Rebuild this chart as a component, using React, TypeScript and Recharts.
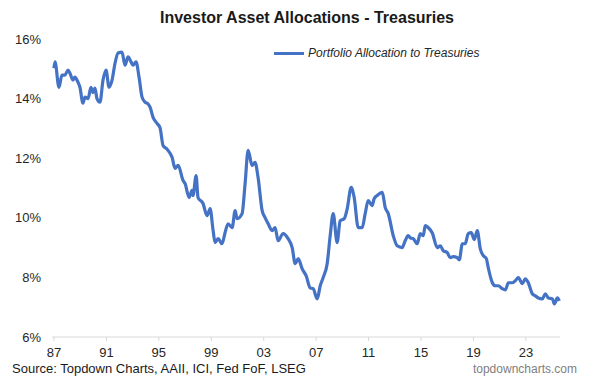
import React from 'react';
import { LineChart, Line, XAxis, YAxis } from 'recharts';

const FONT = '"Liberation Sans", Arial, sans-serif';

// decimal years
const dates = [
  1987.0, 1987.08, 1987.38, 1987.61, 1987.84, 1988.07, 1988.22, 1988.45, 1988.6, 1988.83,
  1988.98, 1989.21, 1989.37, 1989.6, 1989.82, 1989.98, 1990.13, 1990.28, 1990.51, 1990.74,
  1990.97, 1991.2, 1991.43, 1991.66, 1991.89, 1992.19, 1992.42, 1992.65, 1992.88, 1993.03,
  1993.26, 1993.49, 1993.72, 1993.95, 1994.18, 1994.33, 1994.56, 1994.86, 1995.09, 1995.32,
  1995.63, 1996.01, 1996.24, 1996.47, 1996.85, 1997.0, 1997.31, 1997.53, 1997.61, 1997.84,
  1997.99, 1998.37, 1998.68, 1998.91, 1999.14, 1999.29, 1999.52, 1999.82, 2000.05, 2000.28,
  2000.59, 2000.82, 2000.97, 2001.35, 2001.58, 2001.81, 2002.11, 2002.34, 2002.57, 2002.88,
  2003.11, 2003.34, 2003.64, 2003.87, 2004.1, 2004.48, 2004.86, 2005.17, 2005.4, 2005.63,
  2005.93, 2006.24, 2006.54, 2006.77, 2007.08, 2007.31, 2007.53, 2007.84, 2008.07, 2008.3,
  2008.6, 2008.83, 2009.14, 2009.37, 2009.67, 2009.9, 2010.21, 2010.51, 2010.74, 2010.97,
  2011.27, 2011.43, 2011.66, 2012.04, 2012.27, 2012.5, 2012.88, 2013.18, 2013.56, 2013.79,
  2014.02, 2014.18, 2014.4, 2014.71, 2014.94, 2015.17, 2015.32, 2015.55, 2015.85, 2016.24,
  2016.47, 2016.69, 2017.0, 2017.23, 2017.46, 2017.76, 2017.92, 2018.15, 2018.37, 2018.6,
  2018.83, 2019.06, 2019.29, 2019.52, 2019.75, 2019.98, 2020.13, 2020.44, 2020.66, 2020.89,
  2021.2, 2021.43, 2021.66, 2021.96, 2022.19, 2022.42, 2022.73, 2022.95, 2023.18, 2023.49,
  2023.72, 2023.95, 2024.25, 2024.48, 2024.71, 2025.02, 2025.17, 2025.4, 2025.55,
];

// portfolio allocation to treasuries, %
const allocation = [
  15.02, 15.23, 14.38, 14.79, 14.79, 14.96, 14.85, 14.62, 14.72, 14.55,
  14.38, 13.85, 14.05, 14.0, 14.38, 14.2, 14.35, 14.0, 13.88, 14.62,
  14.96, 14.38, 14.62, 15.19, 15.53, 15.56, 15.12, 15.4, 15.23, 15.12,
  15.23, 14.72, 14.05, 13.88, 13.82, 13.71, 13.37, 13.17, 13.02, 12.43,
  12.3, 12.03, 11.66, 11.76, 11.25, 11.15, 10.68, 10.92, 10.75, 11.42,
  10.68, 10.48, 10.07, 10.31, 9.57, 9.17, 9.3, 9.13, 9.5, 9.8,
  9.67, 10.24, 9.97, 10.14, 11.15, 12.26, 11.76, 11.86, 11.35, 10.24,
  10.0, 9.8, 9.57, 9.67, 9.23, 9.47, 9.3, 9.0, 8.46, 8.63,
  8.29, 8.05, 7.65, 7.62, 7.28, 7.72, 7.99, 8.46, 9.4, 10.14,
  9.17, 9.9, 9.97, 10.31, 11.02, 10.68, 9.67, 9.67, 10.14, 10.58,
  10.41, 10.65, 10.75, 10.85, 10.34, 10.14, 9.4, 9.06, 9.0, 9.23,
  9.4, 9.33, 9.3, 9.13, 9.47, 9.4, 9.74, 9.67, 9.5, 9.0,
  9.06, 8.9, 8.83, 8.66, 8.7, 8.66, 8.59, 9.13, 9.13, 9.47,
  9.5, 9.27, 9.57, 8.96, 8.73, 8.63, 8.32, 7.82, 7.72, 7.72,
  7.62, 7.58, 7.82, 7.82, 7.89, 7.99, 7.79, 7.95, 7.82, 7.45,
  7.38, 7.31, 7.28, 7.45, 7.31, 7.28, 7.11, 7.31, 7.21,
];

const xTicks = [1987, 1991, 1995, 1999, 2003, 2007, 2011, 2015, 2019, 2023];
const yTicks = [6, 8, 10, 12, 14, 16];

const data = dates.map((d, i) => ({ date: d, value: allocation[i] }));

const BLUE = '#4472C4';

export default function App() {
  return (
    <div
      style={{
        position: 'absolute',
        left: 0,
        top: 0,
        width: 589,
        height: 382,
        background: '#fff',
        fontFamily: FONT,
        overflow: 'hidden',
      }}
    >
      <div
        style={{
          position: 'absolute',
          left: 0,
          top: 8,
          width: 614,
          textAlign: 'center',
          fontSize: 16,
          lineHeight: '20px',
          fontWeight: 'bold',
          color: '#1a1a1a',
        }}
      >
        Investor Asset Allocations - Treasuries
      </div>
      <LineChart width={589} height={382} data={data} margin={{ top: 39, right: 29, left: 0, bottom: 15 }}>
        <XAxis
          dataKey="date"
          type="number"
          domain={[1986.85, 2025.6]}
          ticks={xTicks}
          tickFormatter={(v) => String(v).slice(2)}
          tick={{ fill: '#262626', fontSize: 13, fontFamily: FONT }}
          axisLine={{ stroke: '#d9d9d9' }}
          tickLine={{ stroke: '#d9d9d9' }}
          tickSize={4}
          tickMargin={7}
          height={30}
          interval={0}
        />
        <YAxis
          domain={[6, 16]}
          ticks={yTicks}
          tickFormatter={(v) => `${v}%`}
          tick={{ fill: '#262626', fontSize: 13, fontFamily: FONT }}
          axisLine={false}
          tickLine={false}
          tickSize={0}
          tickMargin={11}
          width={52}
          interval={0}
        />
        <Line
          type="monotone"
          dataKey="value"
          name="Portfolio Allocation to Treasuries"
          stroke={BLUE}
          strokeWidth={3.2}
          dot={false}
          isAnimationActive={false}
        />
      </LineChart>
      <div style={{ position: 'absolute', left: 274, top: 46, display: 'flex', alignItems: 'center' }}>
        <span style={{ display: 'inline-block', width: 30, height: 3, background: BLUE, marginRight: 4 }} />
        <span style={{ fontStyle: 'italic', fontSize: 12, color: '#262626' }}>
          Portfolio Allocation to Treasuries
        </span>
      </div>
      <div style={{ position: 'absolute', left: 12, top: 361, fontSize: 13, color: '#1a1a1a' }}>
        Source: Topdown Charts, AAII, ICI, Fed FoF, LSEG
      </div>
      <div style={{ position: 'absolute', right: 12, top: 362, fontSize: 12, color: '#808080' }}>
        topdowncharts.com
      </div>
    </div>
  );
}
